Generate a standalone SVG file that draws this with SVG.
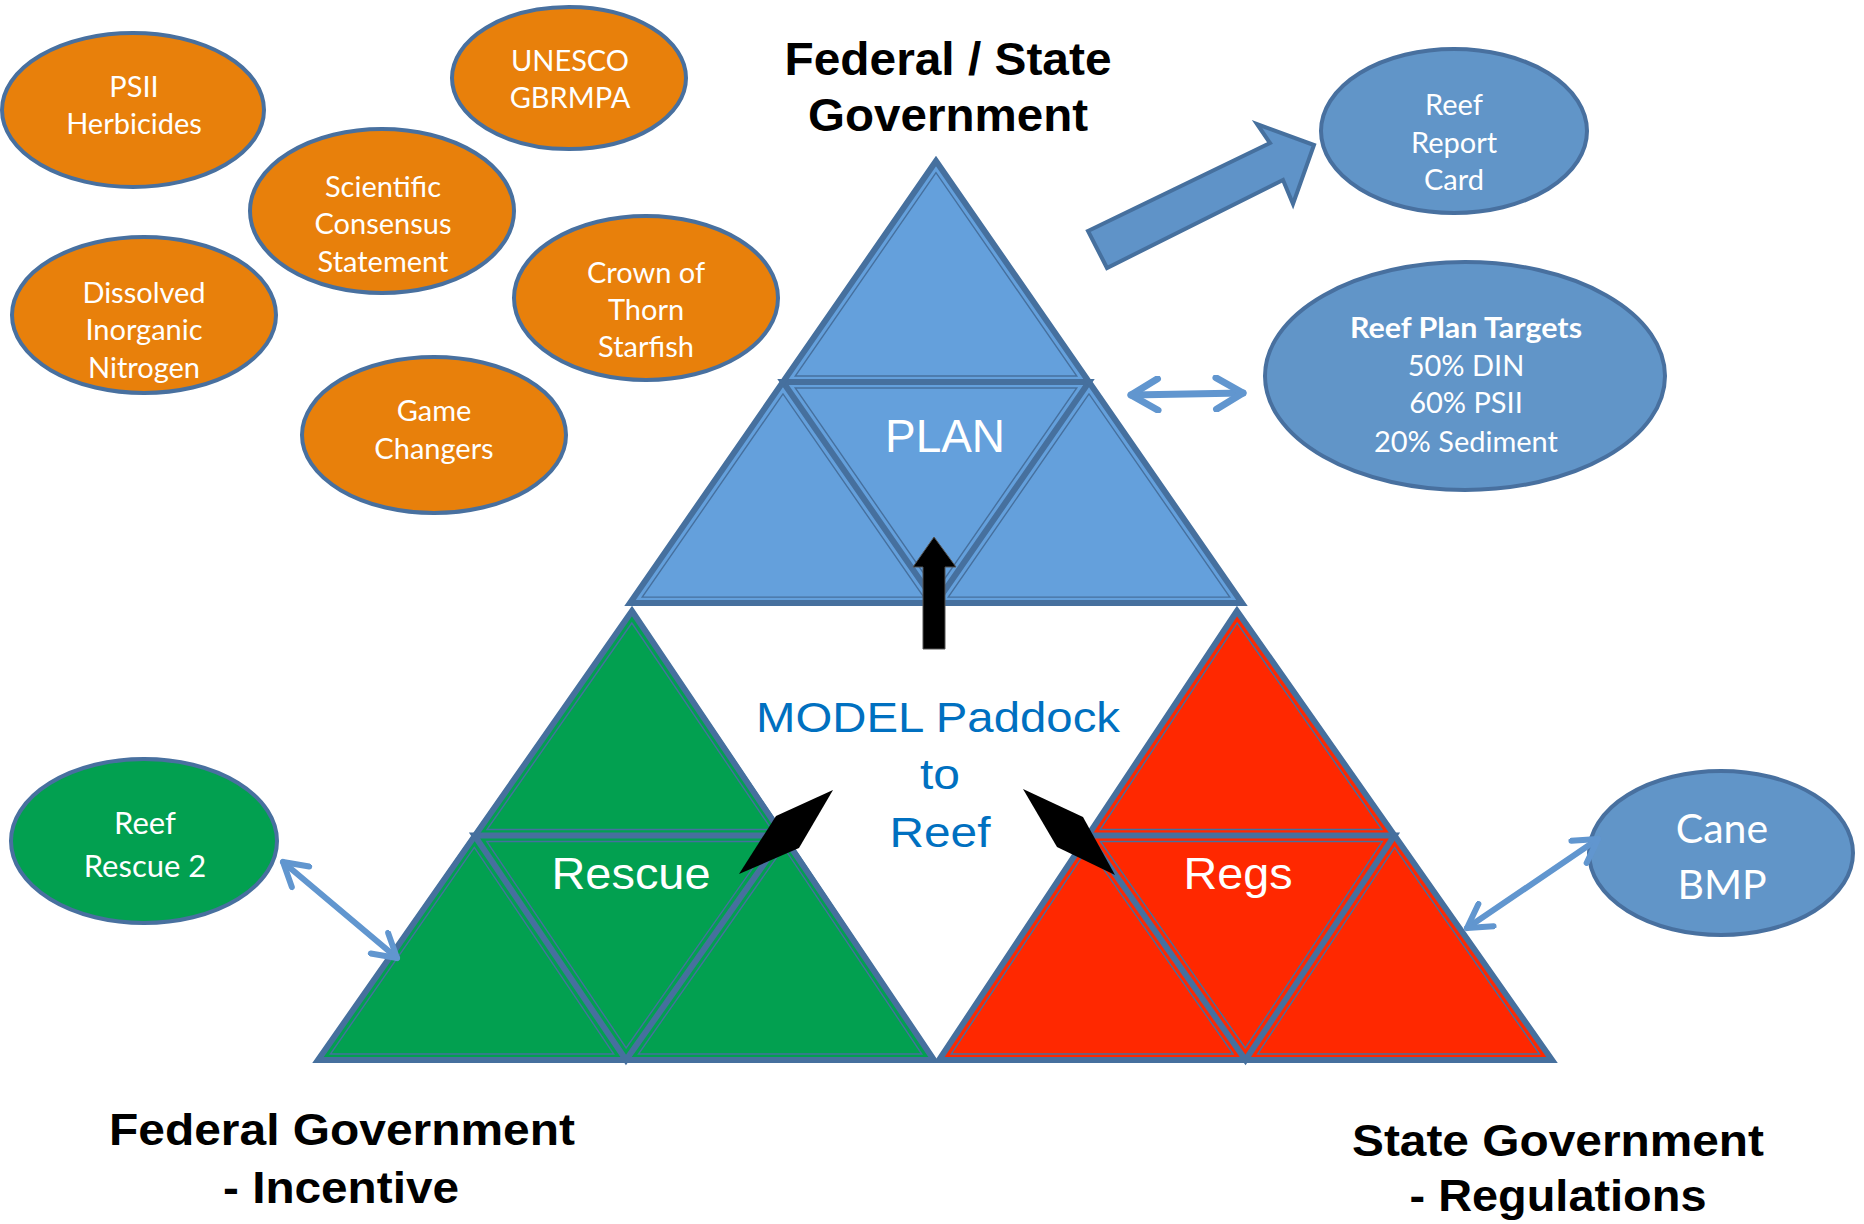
<svg xmlns="http://www.w3.org/2000/svg" width="1864" height="1224" viewBox="0 0 1864 1224">
<style>
.eo{fill:#e8800b;stroke:#48709f;stroke-width:4}
.eb{fill:#6195c8;stroke:#48709f;stroke-width:4}
.eg{fill:#02a050;stroke:#48709f;stroke-width:4}
.tc{font-family:Lato,"Noto Sans",sans-serif;fill:#fff;text-anchor:middle;font-size:29px}
.ta{font-family:"Liberation Sans",Arial,sans-serif;text-anchor:middle}
.ti{font-family:"Liberation Sans",Arial,sans-serif;font-weight:bold;fill:#000;text-anchor:middle}
.sub{stroke:#46709e;stroke-width:4;stroke-linejoin:miter}
.ctr{stroke-width:6}
.in{fill:none;stroke:#46709e;stroke-width:1.5}
.out{fill:none;stroke:#46709e;stroke-width:6;stroke-linejoin:miter}
.blue{fill:#64a0dc}
.green{fill:#02a050}
.red{fill:#ff2800}
.dbl{fill:none;stroke:#6196cf;stroke-linecap:round;marker-start:url(#oh);marker-end:url(#oh)}
</style>
<defs>
<marker id="oh" viewBox="0 0 12 12" refX="10" refY="6" markerWidth="5.4" markerHeight="5.4" orient="auto-start-reverse" markerUnits="strokeWidth">
<path d="M1.5,1 L10,6 L1.5,11" fill="none" stroke="#6196cf" stroke-width="2.2" stroke-linecap="round" stroke-linejoin="round"/>
</marker>
</defs>
<rect width="1864" height="1224" fill="#fff"/>

<g id="tri-plan">
<polygon class="sub blue" points="936,161 783,382 1089,382"/>
<polygon class="sub blue" points="783,382 630,603 936,603"/>
<polygon class="sub blue" points="1089,382 936,603 1242,603"/>
<polygon class="sub blue ctr" points="783,382 1089,382 936,603"/>
<polygon class="in" points="936,161 783,382 1089,382" transform="translate(74.88,24.6) scale(.92)"/>
<polygon class="in" points="783,382 630,603 936,603" transform="translate(62.64,42.4) scale(.92)"/>
<polygon class="in" points="1089,382 936,603 1242,603" transform="translate(87.12,42.4) scale(.92)"/>
<polygon class="in" points="783,382 1089,382 936,603" transform="translate(74.88,36.5) scale(.92)"/>
<polygon class="out" points="936,161 630,603 1242,603"/>
<text class="ta" x="945" y="452" font-size="47" fill="#fff" textLength="120" lengthAdjust="spacingAndGlyphs">PLAN</text>
</g>

<g id="tri-rescue">
<polygon class="sub green" points="632,611 474.5,835.5 784,835.5"/>
<polygon class="sub green" points="474.5,835.5 318,1060 626,1060"/>
<polygon class="sub green" points="784,835.5 626,1060 934,1060"/>
<polygon class="sub green ctr" points="474.5,835.5 784,835.5 626,1060"/>
<polygon class="in" points="632,611 474.5,835.5 784,835.5" transform="translate(50.4,60.9) scale(.92)"/>
<polygon class="in" points="474.5,835.5 318,1060 626,1060" transform="translate(37.8,78.8) scale(.92)"/>
<polygon class="in" points="784,835.5 626,1060 934,1060" transform="translate(62.5,78.8) scale(.92)"/>
<polygon class="in" points="474.5,835.5 784,835.5 626,1060" transform="translate(50.2,72.8) scale(.92)"/>
<polygon class="out" points="632,611 318,1060 934,1060"/>
<text class="ta" x="631" y="889" font-size="44" fill="#fff" textLength="159" lengthAdjust="spacingAndGlyphs">Rescue</text>
</g>

<g id="tri-regs">
<polygon class="sub red" points="1237,611 1088,835.5 1394.5,835.5"/>
<polygon class="sub red" points="1088,835.5 939,1060 1245.5,1060"/>
<polygon class="sub red" points="1394.5,835.5 1245.5,1060 1552,1060"/>
<polygon class="sub red ctr" points="1088,835.5 1394.5,835.5 1245.5,1060"/>
<polygon class="in" points="1237,611 1088,835.5 1394.5,835.5" transform="translate(99.1,60.9) scale(.92)"/>
<polygon class="in" points="1088,835.5 939,1060 1245.5,1060" transform="translate(87.3,78.8) scale(.92)"/>
<polygon class="in" points="1394.5,835.5 1245.5,1060 1552,1060" transform="translate(111.7,78.8) scale(.92)"/>
<polygon class="in" points="1088,835.5 1394.5,835.5 1245.5,1060" transform="translate(99.4,72.8) scale(.92)"/>
<polygon class="out" points="1237,611 939,1060 1552,1060"/>
<text class="ta" x="1238" y="889" font-size="44" fill="#fff" textLength="109" lengthAdjust="spacingAndGlyphs">Regs</text>
</g>

<g id="model">
<text class="ta" font-size="43" fill="#0070c0"><tspan x="938" y="732" textLength="364" lengthAdjust="spacingAndGlyphs">MODEL Paddock</tspan><tspan x="940" y="789" textLength="40" lengthAdjust="spacingAndGlyphs">to</tspan><tspan x="940" y="847" textLength="101" lengthAdjust="spacingAndGlyphs">Reef</tspan></text>
</g>

<g id="titles">
<text class="ti" font-size="46"><tspan x="948" y="75" textLength="327" lengthAdjust="spacingAndGlyphs">Federal / State</tspan><tspan x="948" y="131" textLength="280" lengthAdjust="spacingAndGlyphs">Government</tspan></text>
<text class="ti" font-size="44"><tspan x="342" y="1145" textLength="466" lengthAdjust="spacingAndGlyphs">Federal Government</tspan><tspan x="341" y="1203" textLength="236" lengthAdjust="spacingAndGlyphs">- Incentive</tspan></text>
<text class="ti" font-size="44"><tspan x="1558" y="1156" textLength="412" lengthAdjust="spacingAndGlyphs">State Government</tspan><tspan x="1558" y="1211" textLength="297" lengthAdjust="spacingAndGlyphs">- Regulations</tspan></text>
</g>

<g id="psii"><ellipse class="eo" cx="133" cy="110" rx="131" ry="77"/><text class="tc"><tspan x="134" y="97">PSII</tspan><tspan x="134" y="134">Herbicides</tspan></text></g>
<g id="unesco"><ellipse class="eo" cx="569" cy="78" rx="117" ry="71"/><text class="tc"><tspan x="570" y="71">UNESCO</tspan><tspan x="570" y="108">GBRMPA</tspan></text></g>
<g id="scientific"><ellipse class="eo" cx="382" cy="211" rx="132" ry="82"/><text class="tc"><tspan x="383" y="197">Scientific</tspan><tspan x="383" y="234">Consensus</tspan><tspan x="383" y="272">Statement</tspan></text></g>
<g id="dissolved"><ellipse class="eo" cx="144" cy="315" rx="132" ry="78"/><text class="tc"><tspan x="144" y="303">Dissolved</tspan><tspan x="144" y="340">Inorganic</tspan><tspan x="144" y="378">Nitrogen</tspan></text></g>
<g id="crown"><ellipse class="eo" cx="646" cy="298" rx="132" ry="82"/><text class="tc"><tspan x="646" y="283">Crown of</tspan><tspan x="646" y="320">Thorn</tspan><tspan x="646" y="357">Starfish</tspan></text></g>
<g id="game"><ellipse class="eo" cx="434" cy="435" rx="132" ry="78"/><text class="tc"><tspan x="434" y="421">Game</tspan><tspan x="434" y="459">Changers</tspan></text></g>
<g id="reportcard"><ellipse class="eb" cx="1454" cy="131" rx="133" ry="82"/><text class="tc"><tspan x="1454" y="115">Reef</tspan><tspan x="1454" y="153">Report</tspan><tspan x="1454" y="190">Card</tspan></text></g>
<g id="targets"><ellipse class="eb" cx="1465" cy="376" rx="200" ry="114"/><text class="tc"><tspan x="1466" y="338" font-weight="bold" textLength="232" lengthAdjust="spacingAndGlyphs">Reef Plan Targets</tspan><tspan x="1466" y="376">50% DIN</tspan><tspan x="1466" y="413">60% PSII</tspan><tspan x="1466" y="452">20% Sediment</tspan></text></g>
<g id="reefrescue"><ellipse class="eg" cx="144" cy="841" rx="133" ry="82"/><text class="tc" style="font-size:31px"><tspan x="145" y="834">Reef</tspan><tspan x="145" y="877">Rescue 2</tspan></text></g>
<g id="cane"><ellipse class="eb" cx="1721" cy="853" rx="132" ry="82"/><text class="tc" style="font-size:41px"><tspan x="1722" y="843">Cane</tspan><tspan x="1722" y="899">BMP</tspan></text></g>

<g id="connectors">
<polygon points="1088,231 1270,143 1257,124 1314,145 1293,204 1283,180 1107,268" fill="#5f93c8" stroke="#46709e" stroke-width="4" stroke-linejoin="miter"/>
<line class="dbl" x1="1131" y1="395" x2="1243" y2="393" stroke-width="7"/>
<line class="dbl" x1="283" y1="862" x2="397" y2="958" stroke-width="6"/>
<line class="dbl" x1="1598" y1="839" x2="1467" y2="928" stroke-width="6"/>
<polygon points="934,537 956,567 945,567 945,649 923,649 923,567 913,567" fill="#000" stroke="#555" stroke-width="1"/>
<polygon points="833,790 776,816 739,874 799,848" fill="#000"/>
<polygon points="1023,789 1083,817 1115,875 1057,847" fill="#000"/>
</g>
</svg>
